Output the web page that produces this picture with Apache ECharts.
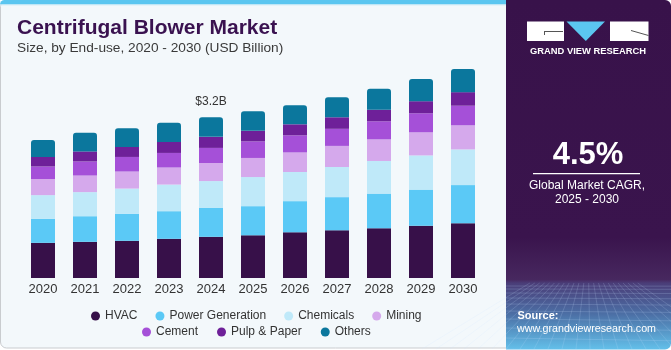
<!DOCTYPE html>
<html>
<head>
<meta charset="utf-8">
<script src="https://cdn.jsdelivr.net/npm/echarts@6/dist/echarts.min.js"></script>
<style>
html,body{margin:0;padding:0;background:#ffffff;}
#c{width:671px;height:350px;}
</style>
</head>
<body>
<div id="c"></div>
<script>
// ---- data (USD Billion) ----
var years = ['2020','2021','2022','2023','2024','2025','2026','2027','2028','2029','2030'];
var hvac      = [0.70, 0.72, 0.74, 0.78, 0.82, 0.85, 0.91, 0.95, 0.99, 1.04, 1.09];
var powerGen  = [0.48, 0.51, 0.54, 0.55, 0.58, 0.58, 0.62, 0.66, 0.69, 0.72, 0.76];
var chemicals = [0.47, 0.48, 0.50, 0.53, 0.53, 0.58, 0.58, 0.60, 0.65, 0.68, 0.71];
var mining    = [0.32, 0.33, 0.34, 0.34, 0.36, 0.38, 0.39, 0.42, 0.43, 0.46, 0.48];
var cement    = [0.25, 0.28, 0.29, 0.29, 0.30, 0.33, 0.34, 0.34, 0.36, 0.38, 0.39];
var pulpPaper = [0.19, 0.20, 0.20, 0.22, 0.22, 0.21, 0.22, 0.23, 0.23, 0.24, 0.27];
var others    = [0.34, 0.37, 0.37, 0.38, 0.39, 0.39, 0.38, 0.40, 0.42, 0.44, 0.46];
var seriesNames = ['HVAC','Power Generation','Chemicals','Mining','Cement','Pulp & Paper','Others'];
var highlightYear = '2024';
var highlightLabel = '$3.2B';
var cagrText = '4.5%';

var colors = ['#371049','#5BC9F6','#BFE9F9','#D5A9EC','#A550D8','#6E2099','#0B779D'];
var allData = [hvac, powerGen, chemicals, mining, cement, pulpPaper, others];
var FONT = '"Liberation Sans", Arial, sans-serif';

var chart = echarts.init(document.getElementById('c'), null, {renderer:'canvas'});

var series = allData.map(function(arr, i){
  var isTop = i === allData.length - 1;
  return {
    name: seriesNames[i],
    type: 'bar',
    stack: 'total',
    barWidth: 24,
    itemStyle: { color: colors[i], borderRadius: isTop ? [3,3,0,0] : 0 },
    emphasis: { disabled: true },
    data: arr.map(function(v, j){
      if (isTop && years[j] === highlightYear) {
        return { value: v, label: { show: true, position: 'top', distance: 10,
          formatter: highlightLabel, color: '#333', fontSize: 12, fontFamily: FONT } };
      }
      return v;
    })
  };
});

// decorative wireframe in panel bottom
var wire = [];
var px0 = 506, px1 = 671, wy0 = 283, wy1 = 349;
var hy = [286, 289, 293, 298, 304, 311, 319, 328, 338, 349];
hy.forEach(function(y){
  wire.push({type:'line', shape:{x1:px0, y1:y, x2:px1, y2:y + (y-wy0)*0.05},
    style:{stroke:'rgba(200,225,255,0.28)', lineWidth:0.7}, silent:true});
});
for (var k = -6; k <= 16; k++) {
  var xb = px0 + k * 14;
  var xt = 588 + (xb - 588) * 0.35;
  wire.push({type:'line', shape:{x1:xt, y1:wy0, x2:xb, y2:wy1},
    style:{stroke:'rgba(200,225,255,0.25)', lineWidth:0.7}, silent:true});
}

var option = {
  animation: false,
  backgroundColor: '#ffffff',
  textStyle: { fontFamily: FONT },
  grid: { left: 22, right: 187, top: 57, bottom: 72, containLabel: false },
  xAxis: {
    type: 'category', data: years,
    axisLine: { show: false }, axisTick: { show: false },
    axisLabel: { color: '#333', fontSize: 13, margin: 5, fontFamily: FONT }
  },
  yAxis: { type: 'value', min: 0, max: 4.4, show: false, splitLine: { show: false } },
  legend: [
    { data: seriesNames.slice(0,4), left: 86, top: 305, icon: 'circle',
      itemWidth: 9, itemHeight: 9, itemGap: 18,
      textStyle: { color: '#333', fontSize: 12, fontFamily: FONT } },
    { data: seriesNames.slice(4), left: 137, top: 321, icon: 'circle',
      itemWidth: 9, itemHeight: 9, itemGap: 19,
      textStyle: { color: '#333', fontSize: 12, fontFamily: FONT } }
  ],
  graphic: {
    elements: [
      { type:'rect', z:-10, silent:true, shape:{x:0.5, y:0.5, width:670, height:347.5, r:6},
        style:{fill:'#F3F8FB', stroke:'#C9CCCF', lineWidth:1} },
      { type:'rect', z:-9, silent:true, shape:{x:0, y:0, width:507, height:4.5, r:[5,0,0,0]},
        style:{fill:'#5BC6F0'} },
      { type:'rect', z:-9, silent:true, shape:{x:0, y:4.5, width:507, height:1},
        style:{fill:'#D6EEF8'} },
      // right panel
      { type:'rect', z:-8, silent:true, shape:{x:506, y:0, width:165, height:349.5, r:[0,6,6,0]},
        style:{fill: new echarts.graphic.LinearGradient(0,0,0,1,[
          {offset:0, color:'#38124A'}, {offset:0.68, color:'#3A144D'},
          {offset:0.80, color:'#47285F'}, {offset:0.81, color:'#4A3D78'},
          {offset:0.9, color:'#4C70A6'}, {offset:1, color:'#63C0EA'}])} },
      { type:'group', z:-7, silent:true, children: wire },
      // logo
      { type:'rect', silent:true, shape:{x:527, y:21.5, width:37, height:19.5}, style:{fill:'#ffffff'} },
      { type:'rect', silent:true, shape:{x:544, y:31, width:19, height:1}, style:{fill:'#555'} },
      { type:'rect', silent:true, shape:{x:544, y:31, width:1, height:4}, style:{fill:'#555'} },
      { type:'polygon', silent:true, shape:{points:[[566.5,21.5],[605,21.5],[585.8,41]]}, style:{fill:'#5BC6F0'} },
      { type:'rect', silent:true, shape:{x:610, y:21.5, width:38.5, height:19.5}, style:{fill:'#ffffff'} },
      { type:'line', silent:true, shape:{x1:631, y1:30.5, x2:648.5, y2:35.5}, style:{stroke:'#555', lineWidth:1} },
      { type:'text', silent:true, x:588, y:51.5, style:{text:'GRAND VIEW RESEARCH', fill:'#ffffff',
        font:'bold 9.4px ' + FONT, textAlign:'center', textVerticalAlign:'middle'} },
      // CAGR
      { type:'text', silent:true, x:588, y:155, style:{text:cagrText, fill:'#ffffff',
        font:'bold 31px ' + FONT, textAlign:'center', textVerticalAlign:'middle'} },
      { type:'rect', silent:true, shape:{x:533, y:173, width:107, height:1.3}, style:{fill:'#ffffff'} },
      { type:'text', silent:true, x:587, y:186, style:{text:'Global Market CAGR,', fill:'#ffffff',
        font:'12px ' + FONT, textAlign:'center', textVerticalAlign:'middle'} },
      { type:'text', silent:true, x:587, y:200, style:{text:'2025 - 2030', fill:'#ffffff',
        font:'12px ' + FONT, textAlign:'center', textVerticalAlign:'middle'} },
      { type:'text', silent:true, x:517.5, y:316, style:{text:'Source:', fill:'#ffffff',
        font:'bold 11px ' + FONT, textAlign:'left', textVerticalAlign:'middle'} },
      { type:'text', silent:true, x:517, y:329.5, style:{text:'www.grandviewresearch.com', fill:'#ffffff',
        font:'10.7px ' + FONT, textAlign:'left', textVerticalAlign:'middle'} },
      // titles
      { type:'text', silent:true, x:17, y:28, style:{text:'Centrifugal Blower Market', fill:'#3A1250',
        font:'bold 21px ' + FONT, textAlign:'left', textVerticalAlign:'middle'} },
      { type:'text', silent:true, x:17, y:48, style:{text:'Size, by End-use, 2020 - 2030 (USD Billion)', fill:'#3a3a3a',
        font:'13.7px ' + FONT, textAlign:'left', textVerticalAlign:'middle'} }
    ]
  },
  series: series
};
chart.setOption(option);
</script>
</body>
</html>
